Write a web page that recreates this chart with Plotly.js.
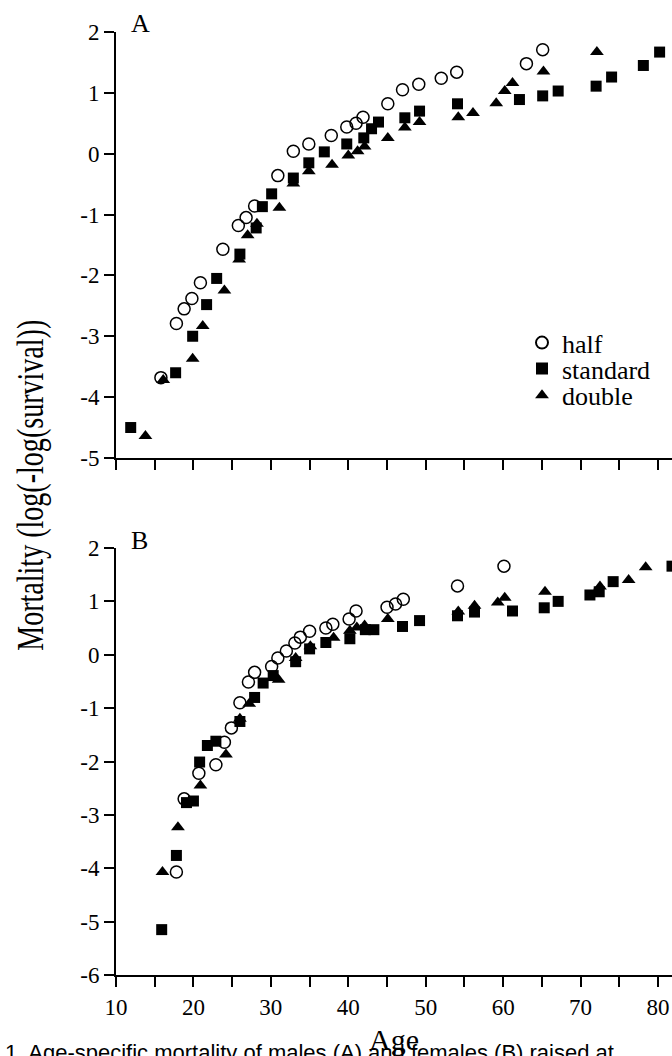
<!DOCTYPE html>
<html>
<head>
<meta charset="utf-8">
<script src="https://cdn.plot.ly/plotly-3.0.1.min.js"></script>
<style>html,body{margin:0;padding:0;background:#fff;}#chart{width:672px;height:1056px;}</style>
</head>
<body>
<div id="chart"></div>
<script>
// Panel A
const A_half_age = [15.8,17.8,18.8,19.8,20.9,23.8,25.8,26.8,27.9,30.9,32.9,34.9,37.8,39.8,41.0,41.9,45.1,47.0,49.1,52.0,54.0,63.0,65.1];
const A_half_val = [-3.68,-2.79,-2.55,-2.38,-2.12,-1.57,-1.18,-1.05,-0.86,-0.36,0.04,0.16,0.30,0.44,0.50,0.60,0.82,1.05,1.14,1.24,1.34,1.48,1.71];
const A_std_age = [11.9,17.7,19.9,21.7,23.0,26.0,28.1,28.9,30.1,32.9,34.9,36.9,39.8,42.0,43.0,43.9,47.3,49.2,54.1,62.1,65.1,67.1,72.0,74.0,78.1,80.2];
const A_std_val = [-4.50,-3.60,-3.00,-2.48,-2.05,-1.65,-1.22,-0.87,-0.66,-0.40,-0.15,0.03,0.16,0.26,0.41,0.52,0.59,0.70,0.82,0.89,0.95,1.03,1.11,1.26,1.45,1.67];
const A_dbl_age = [13.8,16.1,19.9,21.2,24.0,25.9,27.0,28.2,31.1,32.9,34.9,37.9,40.0,41.2,42.1,45.1,47.3,49.2,54.2,56.1,59.1,60.2,61.2,65.2,72.1];
const A_dbl_val = [-4.64,-3.72,-3.37,-2.83,-2.25,-1.74,-1.34,-1.15,-0.89,-0.49,-0.29,-0.18,-0.03,0.04,0.12,0.26,0.43,0.52,0.60,0.67,0.83,1.03,1.16,1.35,1.67];
// Panel B
const B_half_age = [17.8,18.8,20.7,22.9,24.0,24.9,26.0,27.1,27.9,30.1,30.9,32.0,33.1,33.8,35.0,37.1,38.0,40.1,41.0,45.0,46.1,47.1,54.1,60.1];
const B_half_val = [-4.07,-2.70,-2.22,-2.06,-1.64,-1.37,-0.90,-0.51,-0.33,-0.22,-0.06,0.07,0.22,0.33,0.44,0.50,0.57,0.67,0.82,0.89,0.95,1.04,1.29,1.66];
const B_std_age = [15.9,17.8,19.1,20.0,20.8,21.8,22.9,26.0,27.9,29.0,30.3,33.2,35.0,37.1,40.2,42.2,43.3,47.0,49.2,54.1,56.3,61.2,65.3,67.1,71.2,72.4,74.2,81.8];
const B_std_val = [-5.15,-3.76,-2.77,-2.74,-2.01,-1.70,-1.62,-1.25,-0.80,-0.53,-0.39,-0.13,0.11,0.23,0.30,0.47,0.47,0.53,0.64,0.73,0.80,0.82,0.88,1.00,1.12,1.18,1.37,1.66];
const B_dbl_age = [16.0,18.0,20.9,24.2,26.0,27.2,31.0,33.2,35.1,38.1,40.2,41.1,42.1,45.1,54.2,56.3,59.3,60.2,65.4,72.5,76.2,78.4];
const B_dbl_val = [-4.07,-3.23,-2.45,-1.87,-1.20,-0.92,-0.47,-0.06,0.16,0.32,0.45,0.51,0.55,0.67,0.81,0.92,0.98,1.07,1.18,1.28,1.40,1.64];

const seriesNames = ['half','standard','double'];
const panelLabels = ['A','B'];
const xTickVals = [10,15,20,25,30,35,40,45,50,55,60,65,70,75,80];
const xTickText = ['10','','20','','30','','40','','50','','60','','70','','80'];
const yTickValsA = [-5,-4,-3,-2,-1,0,1,2];
const yTickTextA = ['-5','-4','-3','-2','-1','0','1','2'];
const yTickValsB = [-6,-5,-4,-3,-2,-1,0,1,2];
const yTickTextB = ['-6','-5','-4','-3','-2','-1','0','1','2'];
const xTitle = 'Age';
const yTitle = 'Mortality (log(-log(survival))';
const caption = '1. Age-specific mortality of males (A) and females (B) raised at';

const SERIF = 'Liberation Serif, Times New Roman, serif';
const SANS = 'Liberation Sans, Arial, sans-serif';
const W = 672, H = 1056;
// pixel geometry of the plotting region (used only to place text/legends)
const PL = 116, PR = 672, PT = 32, PB = 975;
const px2x = p => (p - PL) / (PR - PL);
const py2y = p => (PB - p) / (PB - PT);

const sym = {
  half: {symbol:'circle-open', size:12, color:'#000', line:{color:'#000', width:1.5}},
  standard: {symbol:'square', size:11, color:'#000'},
  double: {symbol:'triangle-up', size:12, color:'#000'}
};

function tr(x, y, name, xa, ya, legendId, show) {
  return {type:'scatter', mode:'markers', x:x, y:y, name:name, xaxis:xa, yaxis:ya,
    marker:sym[name], showlegend:show, legend:legendId, hoverinfo:'x+y'};
}

const data = [
  tr(A_half_age, A_half_val, seriesNames[0], 'x', 'y', 'legend', true),
  tr(A_std_age, A_std_val, seriesNames[1], 'x', 'y', 'legend2', true),
  tr(A_dbl_age, A_dbl_val, seriesNames[2], 'x', 'y', 'legend3', true),
  tr(B_half_age, B_half_val, seriesNames[0], 'x2', 'y2', 'legend', false),
  tr(B_std_age, B_std_val, seriesNames[1], 'x2', 'y2', 'legend2', false),
  tr(B_dbl_age, B_dbl_val, seriesNames[2], 'x2', 'y2', 'legend3', false)
];

const axBase = {showline:true, linecolor:'#000', linewidth:2, ticks:'outside', ticklen:10,
  tickwidth:1.5, tickcolor:'#000', showgrid:false, zeroline:false,
  tickfont:{family:SERIF, size:23, color:'#000'}, fixedrange:true};

function legendAt(py) {
  return {x:px2x(522), y:py2y(py), xref:'paper', yref:'paper', xanchor:'left', yanchor:'middle',
    bgcolor:'rgba(0,0,0,0)', borderwidth:0, itemsizing:'constant', itemwidth:30,
    font:{family:SERIF, size:26, color:'#000'}};
}

const layout = {
  width:W, height:H,
  margin:{l:PL, r:W - PR, t:PT, b:H - PB, pad:0, autoexpand:false},
  paper_bgcolor:'#fff', plot_bgcolor:'#fff',
  font:{family:SERIF, color:'#000'},
  xaxis:Object.assign({}, axBase, {domain:[0,1], range:[10,81.8], anchor:'y',
    tickvals:xTickVals, ticktext:xTickText, showticklabels:false}),
  yaxis:Object.assign({}, axBase, {domain:[0.5483,1], range:[-5,2], anchor:'x',
    tickvals:yTickValsA, ticktext:yTickTextA}),
  xaxis2:Object.assign({}, axBase, {domain:[0,1], range:[10,81.8], anchor:'y2',
    tickvals:xTickVals, ticktext:xTickText,
    title:{text:xTitle, font:{family:SERIF, size:30, color:'#000'}, standoff:12}}),
  yaxis2:Object.assign({}, axBase, {domain:[0,0.4528], range:[-6,2], anchor:'x2',
    tickvals:yTickValsB, ticktext:yTickTextB}),
  legend:legendAt(342.7),
  legend2:legendAt(368.7),
  legend3:legendAt(395.3),
  showlegend:true,
  annotations:[
    {text:panelLabels[0], xref:'paper', yref:'paper', x:px2x(129), y:py2y(23.5), xanchor:'left', yanchor:'middle',
      showarrow:false, font:{family:SERIF, size:26, color:'#000'}},
    {text:panelLabels[1], xref:'paper', yref:'paper', x:px2x(129), y:py2y(540.5), xanchor:'left', yanchor:'middle',
      showarrow:false, font:{family:SERIF, size:26, color:'#000'}},
    {text:yTitle, xref:'paper', yref:'paper', x:px2x(30), y:py2y(485.5), xanchor:'center', yanchor:'middle',
      textangle:-90, showarrow:false, font:{family:SERIF, size:38, color:'#000'}},
    {text:caption, xref:'paper', yref:'paper', x:px2x(3), y:py2y(1038), xanchor:'left', yanchor:'top',
      showarrow:false, font:{family:SANS, size:22, color:'#000'}}
  ]
};

Plotly.newPlot('chart', data, layout, {displayModeBar:false, responsive:false}).then(function (gd) {
  // the source figure's axis label is a narrowed serif: fit it to its measured length
  gd.querySelectorAll('.annotation-text').forEach(function (t) {
    if (t.textContent === yTitle) {
      t.setAttribute('textLength', '331');
      t.setAttribute('lengthAdjust', 'spacingAndGlyphs');
    }
  });
});
</script>
</body>
</html>
